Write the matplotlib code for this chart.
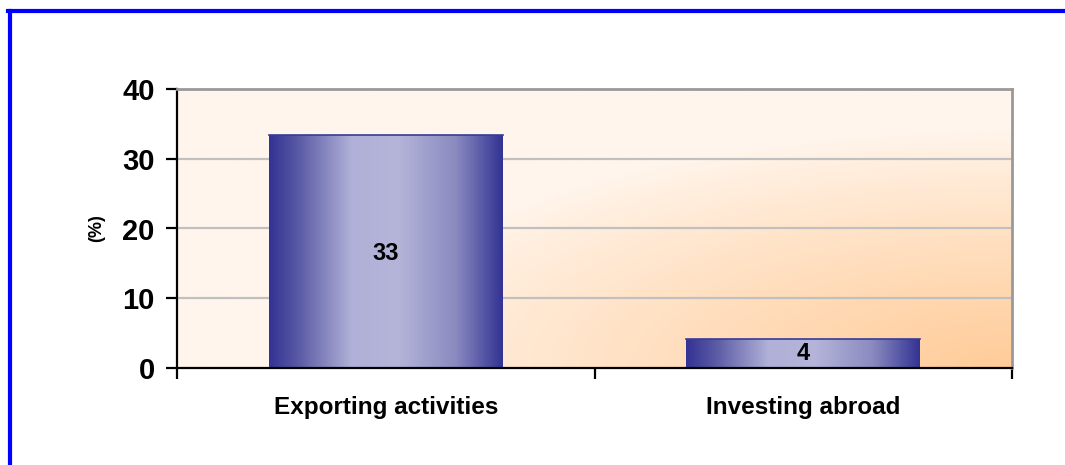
import numpy as np
import matplotlib.pyplot as plt
from matplotlib.colors import LinearSegmentedColormap
from matplotlib.lines import Line2D

categories = ["Exporting activities", "Investing abroad"]
values = [33.4, 4.1]
value_labels = ["33", "4"]
y_ticks = [0, 10, 20, 30, 40]

plt.rcParams['font.family'] = ['Liberation Sans', 'DejaVu Sans']
plt.rcParams['font.weight'] = 'bold'

fig = plt.figure(figsize=(10.65, 4.65), dpi=100)
ax = fig.add_axes([177 / 1065, 1 - 368 / 465, 835 / 1065, 279 / 465])

# background gradient, orange towards the bottom right corner
gx, gy = np.meshgrid(np.linspace(0, 1, 300), np.linspace(0, 1, 200))
t = np.clip(1 - np.hypot((1 - gx) / 0.8, gy / 0.85), 0, 1) ** 0.85
bg = LinearSegmentedColormap.from_list("bg", ["#FFF5EC", "#FFCC99"])
ax.imshow(t, cmap=bg, vmin=0, vmax=1, extent=[-0.5, 1.5, 0, 40],
          origin='lower', aspect='auto', zorder=0)

ax.set_xlim(-0.5, 1.5)
ax.set_ylim(0, 40)

for y in y_ticks[1:-1]:
    ax.axhline(y, color='#C0C0C0', lw=1.6, zorder=1)

# bars with horizontal shading
bar_cm = LinearSegmentedColormap.from_list(
    "bar", [(0, "#333394"), (0.12, "#5858a4"), (0.35, "#b0b0d8"),
            (0.55, "#b5b5da"), (0.8, "#8a8ac0"), (1, "#333394")])
shade = np.linspace(0, 1, 256).reshape(1, -1)
w = 0.56
for i, v in enumerate(values):
    ax.imshow(shade, cmap=bar_cm, extent=[i - w / 2, i + w / 2, 0, v],
              aspect='auto', zorder=2)
    ax.plot([i - w / 2, i + w / 2], [v, v], color='#3a3a96', lw=1.2, zorder=3)
    ax.text(i, v * 0.49 if v > 10 else v * 0.5, value_labels[i], ha='center', va='center',
            fontsize=17, fontweight='bold', zorder=4)

ax.set_yticks(y_ticks)
ax.set_yticklabels([str(v) for v in y_ticks], fontsize=21, fontweight='bold')
ax.tick_params(axis='y', length=8, width=1.6, pad=8)

ax.set_xticks(range(len(categories)))
ax.set_xticklabels(categories, fontsize=17.5, fontweight='bold')
ax.tick_params(axis='x', length=0, pad=20)
ax.set_xticks([-0.5, 0.5, 1.5], minor=True)
ax.tick_params(axis='x', which='minor', length=8, width=1.6)

ax.set_ylabel("(%)", fontsize=13, fontweight='bold', labelpad=12)

for s in ['left', 'bottom']:
    ax.spines[s].set_color('black')
    ax.spines[s].set_linewidth(1.6)
for s in ['top', 'right']:
    ax.spines[s].set_color('#999999')
    ax.spines[s].set_linewidth(2)
ax.spines['bottom'].set_zorder(5)

# blue frame on top and left
fig.add_artist(Line2D([9.5 / 1065, 9.5 / 1065], [0, 1 - 11.5 / 465],
                      color='#0000FF', lw=3))
fig.add_artist(Line2D([8 / 1065, 1], [1 - 11.5 / 465, 1 - 11.5 / 465],
                      color='#0000FF', lw=3))

fig.savefig("out.png", dpi=100)
